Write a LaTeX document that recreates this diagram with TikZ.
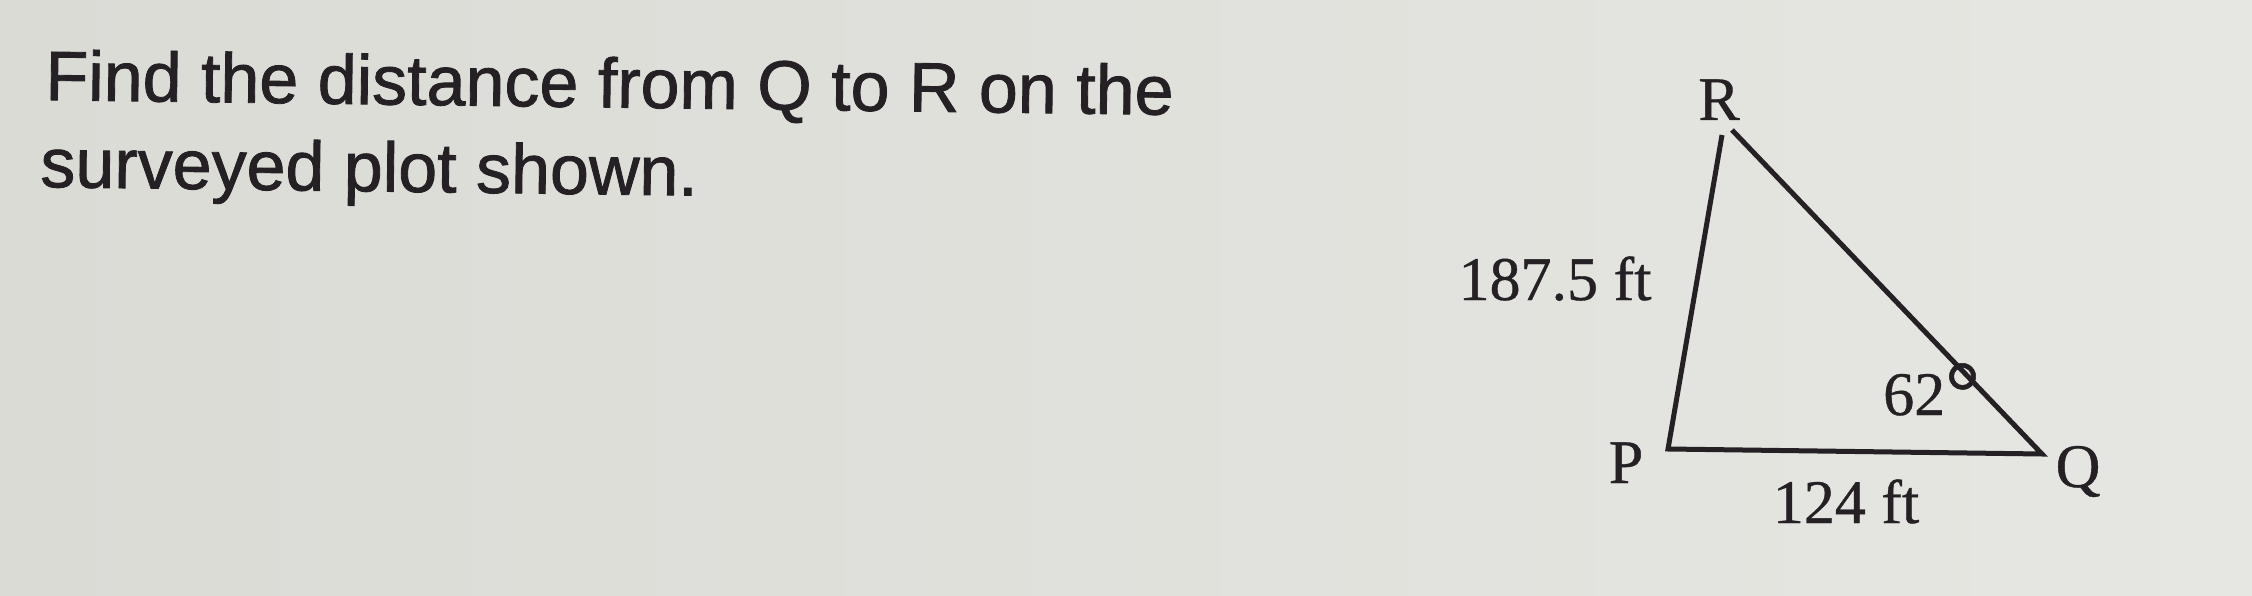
\documentclass[tikz,border=0pt]{standalone}
\usepackage{fontspec}
\setmainfont{Liberation Serif}[FakeBold=0.6]
\newfontfamily\questionfont{Liberation Sans}[FakeBold=1.2]

\definecolor{paperleft}{RGB}{219,219,214}
\definecolor{paperright}{RGB}{230,230,226}
\definecolor{ink}{RGB}{36,32,36}

\tikzset{
  question/.style={anchor=base west,inner sep=0pt,text=ink,
    font=\questionfont\fontsize{70}{87}\selectfont,rotate=-0.75},
  vertexlabel/.style={anchor=base,inner sep=0pt,text=ink,
    font=\fontsize{62}{74}\selectfont},
  plotside/.style={draw=ink,line width=5pt},
}

\begin{document}
\begin{tikzpicture}[x=1pt,y=-1pt,line join=miter]
%%
\shade [left color=paperleft,right color=paperright] (0,0) rectangle (2252,596);
\useasboundingbox (0,0) rectangle (2252,596);
%
\node (line_1) at (45,100) [question] {Find the distance from Q to R on the};
\node (line_2) at (40,187) [question] {surveyed plot shown.};
%
\coordinate (P) at (1668,449);
\coordinate (Q) at (2042,454);
\coordinate (R_left) at (1722,135);
\coordinate (R_right) at (1732,130);
\draw [plotside] (R_left) -- (P) -- (Q) -- (R_right);
%
\node (label_R) at (1719,120) [vertexlabel] {R};
\node (label_P) at (1626,483) [vertexlabel] {P};
\node (label_Q) at (2078,487) [vertexlabel] {Q};
\node (side_PR) at (1555,300) [vertexlabel] {187.5 ft};
\node (side_PQ) at (1846,523) [vertexlabel] {124 ft};
\node (angle_Q) at (1883,415) [vertexlabel,anchor=base west] {62\raisebox{-6pt}{\scalebox{1.4}{°}}};
%
\end{tikzpicture}
\end{document}
